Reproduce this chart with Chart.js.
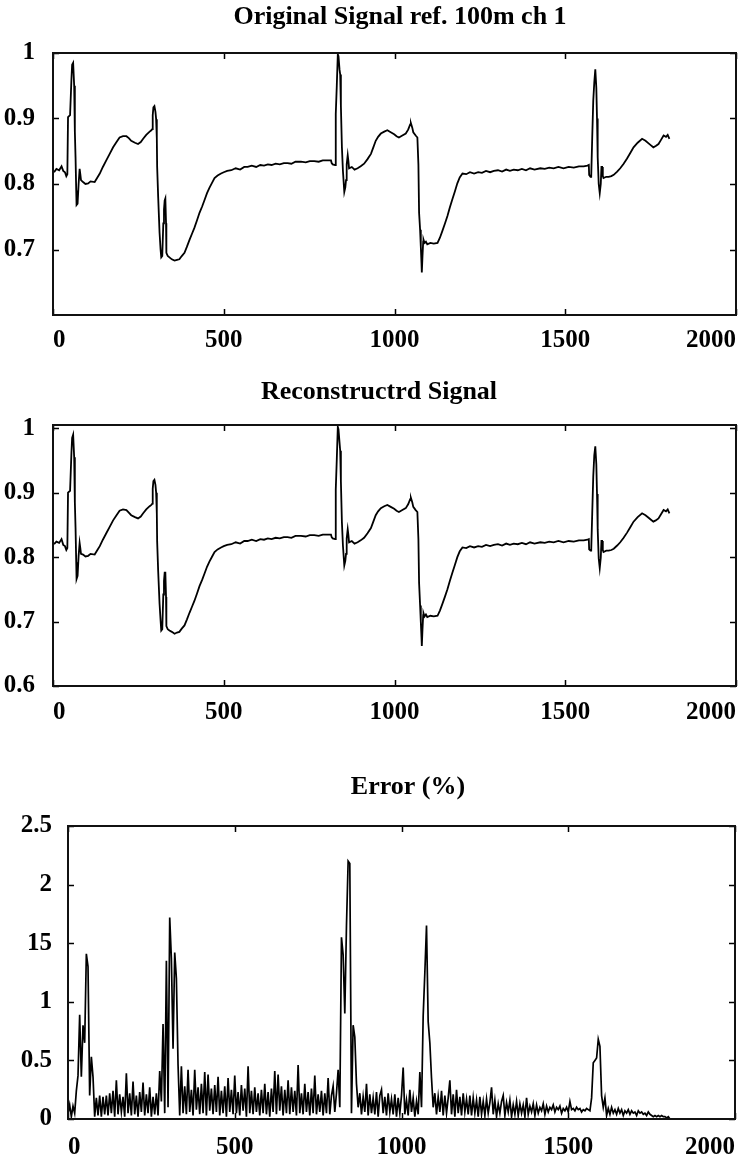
<!DOCTYPE html>
<html>
<head>
<meta charset="utf-8">
<script src="https://cdn.jsdelivr.net/npm/chart.js@4/dist/chart.umd.min.js"></script>
<style>
  html, body { margin: 0; padding: 0; background: #fff; }
  body { width: 748px; height: 1154px; position: relative; overflow: hidden; }
  .panel { position: absolute; left: 0; width: 748px; }
  canvas { display: block; }
</style>
</head>
<body>
<div class="panel" style="top:0px;height:350px"><canvas id="c1" width="748" height="350"></canvas></div>
<div class="panel" style="top:370px;height:354px"><canvas id="c2" width="748" height="354"></canvas></div>
<div class="panel" style="top:760px;height:394px"><canvas id="c3" width="748" height="394"></canvas></div>
<script>
// ---------------- DATA ----------------
const titles = ['Original Signal ref. 100m ch 1', 'Reconstructrd Signal', 'Error (%)'];

// shared sample positions for the two signal panels
const sigX = [3,10,18,25,30,35,39,42,44,50,54,56,59,62,64,66,68,69,72,75,78,80,82,88,95,103,110,122,130,137,146,156,166,176,186,195,205,215,222,229,240,249,257,264,273,283,288,291,292,294,297,300,302,304,305,308,312,315,317,320,323,325,327,329,331,332,336,341,348,356,363,370,377,385,392,400,407,414,422,429,437,444,451,458,466,473,482,492,500,510,522,535,548,560,570,582,595,607,618,629,640,652,664,676,687,698,710,726,740,752,765,778,790,803,814,816,819,826,828,831,834,836,839,841,843,846,849,853,856,858,860,863,865,867,875,883,892,901,911,921,931,938,945,952,960,970,979,989,999,1006,1013,1023,1033,1040,1046,1048,1052,1055,1062,1067,1070,1072,1075,1077,1079,1080,1082,1084,1085,1088,1092,1096,1105,1115,1126,1133,1140,1148,1155,1162,1169,1177,1184,1191,1199,1210,1221,1233,1245,1256,1268,1280,1291,1303,1315,1327,1338,1349,1361,1373,1385,1397,1410,1427,1440,1453,1466,1480,1495,1510,1525,1540,1554,1565,1569,1570,1574,1576,1579,1582,1585,1588,1591,1593,1595,1598,1601,1604,1606,1608,1610,1612,1620,1627,1635,1642,1652,1661,1671,1681,1690,1700,1712,1725,1735,1744,1751,1758,1765,1773,1780,1788,1795,1800,1805];

const sigOrig = [0.818,0.823,0.821,0.827,0.820,0.818,0.812,0.815,0.902,0.905,0.960,0.982,0.985,0.950,0.880,0.841,0.790,0.768,0.770,0.800,0.823,0.815,0.806,0.803,0.800,0.801,0.804,0.803,0.810,0.816,0.826,0.836,0.846,0.856,0.864,0.871,0.873,0.873,0.870,0.866,0.863,0.861,0.864,0.869,0.875,0.880,0.882,0.884,0.905,0.917,0.919,0.910,0.899,0.870,0.826,0.780,0.726,0.700,0.688,0.690,0.740,0.761,0.775,0.778,0.740,0.695,0.690,0.688,0.685,0.683,0.684,0.685,0.690,0.695,0.704,0.715,0.724,0.733,0.745,0.756,0.766,0.776,0.786,0.794,0.802,0.809,0.813,0.816,0.818,0.820,0.821,0.824,0.822,0.826,0.826,0.828,0.826,0.829,0.828,0.830,0.829,0.831,0.830,0.832,0.832,0.831,0.834,0.834,0.833,0.835,0.835,0.834,0.836,0.836,0.836,0.832,0.830,0.829,0.907,0.950,0.998,0.995,0.975,0.967,0.920,0.856,0.820,0.788,0.795,0.806,0.830,0.844,0.835,0.824,0.826,0.822,0.824,0.827,0.831,0.838,0.846,0.856,0.866,0.872,0.877,0.880,0.882,0.879,0.876,0.873,0.871,0.874,0.877,0.883,0.891,0.893,0.886,0.879,0.874,0.871,0.830,0.756,0.730,0.705,0.680,0.665,0.690,0.712,0.715,0.710,0.712,0.708,0.710,0.709,0.710,0.718,0.728,0.740,0.751,0.764,0.776,0.789,0.801,0.810,0.816,0.815,0.818,0.816,0.818,0.817,0.820,0.818,0.820,0.821,0.819,0.822,0.820,0.822,0.821,0.823,0.821,0.824,0.822,0.824,0.823,0.825,0.824,0.826,0.824,0.826,0.825,0.827,0.827,0.828,0.829,0.814,0.811,0.811,0.871,0.927,0.955,0.975,0.947,0.900,0.841,0.800,0.786,0.800,0.826,0.826,0.812,0.809,0.811,0.811,0.812,0.814,0.819,0.824,0.831,0.839,0.847,0.856,0.863,0.869,0.866,0.862,0.859,0.856,0.858,0.861,0.867,0.874,0.872,0.875,0.869];

const sigRec = [0.820,0.824,0.822,0.828,0.819,0.817,0.811,0.814,0.900,0.903,0.962,0.985,0.990,0.955,0.885,0.846,0.792,0.766,0.771,0.802,0.822,0.814,0.805,0.804,0.801,0.802,0.805,0.804,0.811,0.817,0.827,0.837,0.847,0.857,0.865,0.872,0.874,0.873,0.869,0.865,0.862,0.860,0.863,0.868,0.874,0.879,0.881,0.883,0.906,0.918,0.920,0.912,0.900,0.868,0.824,0.778,0.728,0.702,0.686,0.688,0.742,0.763,0.776,0.776,0.738,0.693,0.688,0.686,0.684,0.681,0.683,0.684,0.689,0.694,0.703,0.714,0.723,0.732,0.744,0.755,0.765,0.775,0.785,0.793,0.801,0.808,0.812,0.815,0.817,0.819,0.820,0.823,0.821,0.825,0.825,0.827,0.825,0.828,0.827,0.829,0.828,0.830,0.829,0.831,0.831,0.830,0.833,0.833,0.832,0.834,0.834,0.833,0.835,0.835,0.835,0.831,0.829,0.828,0.905,0.952,1.002,0.998,0.978,0.965,0.918,0.854,0.818,0.787,0.794,0.805,0.829,0.843,0.834,0.823,0.825,0.821,0.823,0.826,0.830,0.837,0.845,0.855,0.865,0.871,0.876,0.879,0.881,0.878,0.875,0.872,0.870,0.873,0.876,0.882,0.890,0.892,0.885,0.878,0.873,0.870,0.828,0.760,0.725,0.700,0.676,0.662,0.688,0.710,0.713,0.708,0.711,0.707,0.709,0.708,0.709,0.717,0.727,0.739,0.750,0.763,0.775,0.788,0.800,0.809,0.815,0.814,0.817,0.815,0.817,0.816,0.819,0.817,0.819,0.820,0.818,0.821,0.819,0.821,0.820,0.822,0.820,0.823,0.821,0.823,0.822,0.824,0.823,0.825,0.823,0.825,0.824,0.826,0.826,0.827,0.828,0.812,0.810,0.810,0.868,0.925,0.958,0.972,0.944,0.898,0.843,0.798,0.783,0.799,0.825,0.825,0.811,0.808,0.810,0.810,0.811,0.813,0.818,0.823,0.830,0.838,0.846,0.855,0.862,0.868,0.865,0.861,0.858,0.855,0.857,0.860,0.866,0.873,0.871,0.874,0.868];

// error (%) series: one value per errStep samples, starting at sample 0
const errStep = 5;
const errY = [
  0.04,0.12,0.02,0.11,0.05,0.24,0.37,0.89,0.36,0.80,
  0.65,1.41,1.30,0.20,0.53,0.36,0.02,0.18,0.03,0.20,
  0.02,0.19,0.04,0.20,0.03,0.22,0.05,0.24,0.02,0.33,
  0.04,0.21,0.06,0.19,0.02,0.39,0.05,0.22,0.03,0.32,
  0.04,0.20,0.02,0.23,0.06,0.31,0.03,0.21,0.05,0.27,
  0.02,0.19,0.04,0.22,0.03,0.41,0.15,0.81,0.05,1.35,
  0.10,1.72,1.37,0.60,1.42,1.20,0.46,0.03,0.45,0.05,
  0.28,0.04,0.42,0.06,0.25,0.03,0.42,0.08,0.27,0.04,
  0.30,0.05,0.40,0.03,0.38,0.07,0.26,0.04,0.29,0.06,
  0.36,0.03,0.24,0.05,0.28,0.02,0.35,0.06,0.25,0.04,
  0.37,0.05,0.23,0.03,0.29,0.07,0.26,0.02,0.45,0.05,
  0.24,0.04,0.27,0.06,0.22,0.03,0.25,0.05,0.30,0.04,
  0.23,0.02,0.26,0.06,0.41,0.04,0.38,0.07,0.28,0.03,
  0.25,0.05,0.33,0.04,0.27,0.06,0.24,0.03,0.46,0.05,
  0.22,0.04,0.30,0.06,0.23,0.03,0.26,0.05,0.37,0.04,
  0.21,0.06,0.24,0.03,0.22,0.05,0.35,0.04,0.20,0.28,
  0.06,0.22,0.42,0.10,1.55,1.40,0.90,1.65,2.20,2.18,
  0.05,0.80,0.70,0.30,0.10,0.22,0.04,0.19,0.06,0.30,
  0.03,0.21,0.05,0.18,0.04,0.23,0.02,0.20,0.25,0.05,
  0.19,0.03,0.22,0.06,0.17,0.04,0.21,0.02,0.18,0.05,
  0.20,0.44,0.04,0.16,0.03,0.25,0.06,0.18,0.02,0.15,
  0.04,0.40,0.10,0.88,1.25,1.65,0.83,0.65,0.35,0.10,
  0.22,0.04,0.19,0.06,0.24,0.03,0.20,0.05,0.18,0.33,
  0.04,0.21,0.02,0.25,0.05,0.19,0.03,0.22,0.06,0.17,
  0.04,0.20,0.03,0.18,0.05,0.16,0.02,0.19,0.04,0.15,
  0.03,0.17,0.05,0.14,0.27,0.04,0.16,0.02,0.13,0.05,
  0.15,0.20,0.03,0.14,0.06,0.16,0.02,0.12,0.04,0.15,
  0.03,0.13,0.05,0.12,0.02,0.18,0.04,0.11,0.06,0.13,
  0.03,0.12,0.05,0.10,0.07,0.13,0.04,0.11,0.06,0.10,
  0.08,0.12,0.06,0.10,0.08,0.11,0.05,0.09,0.07,0.10,
  0.06,0.15,0.08,0.09,0.07,0.10,0.08,0.09,0.06,0.08,
  0.07,0.09,0.08,0.07,0.18,0.48,0.50,0.52,0.68,0.62,
  0.20,0.10,0.18,0.03,0.09,0.04,0.10,0.05,0.08,0.04,
  0.09,0.05,0.08,0.03,0.07,0.05,0.08,0.04,0.07,0.05,
  0.06,0.03,0.07,0.05,0.06,0.04,0.05,0.03,0.06,0.04,
  0.03,0.02,0.03,0.02,0.03,0.02,0.03,0.02,0.02,0.01,
  0.02,0.00
];

// tick values and labels
const xTickVals = [0, 500, 1000, 1500, 2000];
const xTickLabels = ['0', '500', '1000', '1500', '2000'];
const y1TickVals = [0.7, 0.8, 0.9, 1];
const y1TickLabels = ['0.7', '0.8', '0.9', '1'];
const y2TickVals = [0.6, 0.7, 0.8, 0.9, 1];
const y2TickLabels = ['0.6', '0.7', '0.8', '0.9', '1'];
const y3TickVals = [0, 0.5, 1, 1.5, 2, 2.5];
const y3TickLabels = ['0', '0.5', '1', '15', '2', '2.5'];

// ---------------- RENDERING ----------------
const SERIF = '"Liberation Serif", "Times New Roman", serif';

const frameTicks = {
  id: 'frameTicks',
  afterDatasetsDraw(chart) {
    const { ctx, chartArea: a, scales } = chart;
    const L = 6;
    ctx.save();
    ctx.strokeStyle = '#000';
    ctx.lineWidth = 1.5;
    ctx.beginPath();
    scales.x.ticks.forEach(t => {
      const p = Math.round(scales.x.getPixelForValue(t.value)) + 0.5;
      ctx.moveTo(p, a.bottom); ctx.lineTo(p, a.bottom - L);
      ctx.moveTo(p, a.top); ctx.lineTo(p, a.top + L);
    });
    scales.y.ticks.forEach(t => {
      const p = Math.round(scales.y.getPixelForValue(t.value)) + 0.5;
      ctx.moveTo(a.left, p); ctx.lineTo(a.left + L, p);
      ctx.moveTo(a.right, p); ctx.lineTo(a.right - L, p);
    });
    ctx.stroke();
    ctx.lineWidth = 2;
    ctx.strokeStyle = '#111';
    ctx.strokeRect(a.left, a.top, a.right - a.left, a.bottom - a.top);
    ctx.restore();
  }
};

// panel title drawn at the position it has in the original figure
const panelTitle = {
  id: 'panelTitle',
  afterDraw(chart, args, opts) {
    const ctx = chart.ctx;
    ctx.save();
    ctx.fillStyle = '#000';
    ctx.font = 'bold 26px ' + SERIF;
    ctx.textAlign = 'center';
    ctx.textBaseline = 'middle';
    ctx.fillText(opts.text, opts.x, opts.y);
    ctx.restore();
  }
};

function makeChart(id, cfg) {
  const data = cfg.xs.map((x, i) => ({ x: x, y: cfg.ys[i] }));
  return new Chart(document.getElementById(id), {
    type: 'line',
    data: {
      datasets: [{
        data: data,
        borderColor: '#000',
        borderWidth: cfg.lw,
        pointRadius: 0,
        tension: 0,
        fill: false
      }]
    },
    options: {
      responsive: false,
      animation: false,
      devicePixelRatio: 1,
      layout: { padding: { left: 0, right: cfg.padRight, top: cfg.areaTop, bottom: 0 } },
      plugins: {
        legend: { display: false },
        tooltip: { enabled: false },
        title: { display: false },
        panelTitle: { text: cfg.title, x: cfg.titleX, y: cfg.titleY }
      },
      scales: {
        x: {
          type: 'linear',
          min: 0, max: 2000,
          grid: { display: false },
          border: { display: false },
          afterBuildTicks: s => { s.ticks = xTickVals.map(v => ({ value: v })); },
          afterFit: s => { s.height = cfg.xHeight; },
          ticks: {
            align: 'inner',
            padding: cfg.xPad,
            color: '#000',
            font: { family: SERIF, size: 25, weight: 'bold' },
            maxRotation: 0,
            callback: v => xTickLabels[xTickVals.indexOf(v)]
          }
        },
        y: {
          type: 'linear',
          min: cfg.ymin, max: cfg.ymax,
          grid: { display: false },
          border: { display: false },
          afterBuildTicks: s => { s.ticks = cfg.yVals.map(v => ({ value: v })); },
          afterFit: s => { s.width = cfg.yWidth; },
          ticks: {
            padding: cfg.yPad,
            color: '#000',
            font: { family: SERIF, size: 25, weight: 'bold' },
            callback: v => cfg.yLabels[cfg.yVals.indexOf(v)]
          }
        }
      }
    },
    plugins: [frameTicks, panelTitle]
  });
}

makeChart('c1', {
  title: titles[0], titleX: 400, titleY: 17.6, xs: sigX, ys: sigOrig, lw: 1.8,
  ymin: 0.6, ymax: 1.0, yVals: y1TickVals, yLabels: y1TickLabels,
  areaTop: 53, xHeight: 35, xPad: 3, yWidth: 53, yPad: 10, padRight: 12
});

makeChart('c2', {
  title: titles[1], titleX: 379, titleY: 22.6, xs: sigX, ys: sigRec, lw: 1.8,
  ymin: 0.6, ymax: 1.005, yVals: y2TickVals, yLabels: y2TickLabels,
  areaTop: 55, xHeight: 38, xPad: 4, yWidth: 53, yPad: 10, padRight: 12
});

makeChart('c3', {
  title: titles[2], titleX: 408, titleY: 27.6, xs: errY.map((v, i) => i * errStep), ys: errY, lw: 1.7,
  ymin: 0, ymax: 2.5, yVals: y3TickVals, yLabels: y3TickLabels,
  areaTop: 66, xHeight: 35, xPad: 6, yWidth: 68, yPad: 8, padRight: 13
});
</script>
</body>
</html>
